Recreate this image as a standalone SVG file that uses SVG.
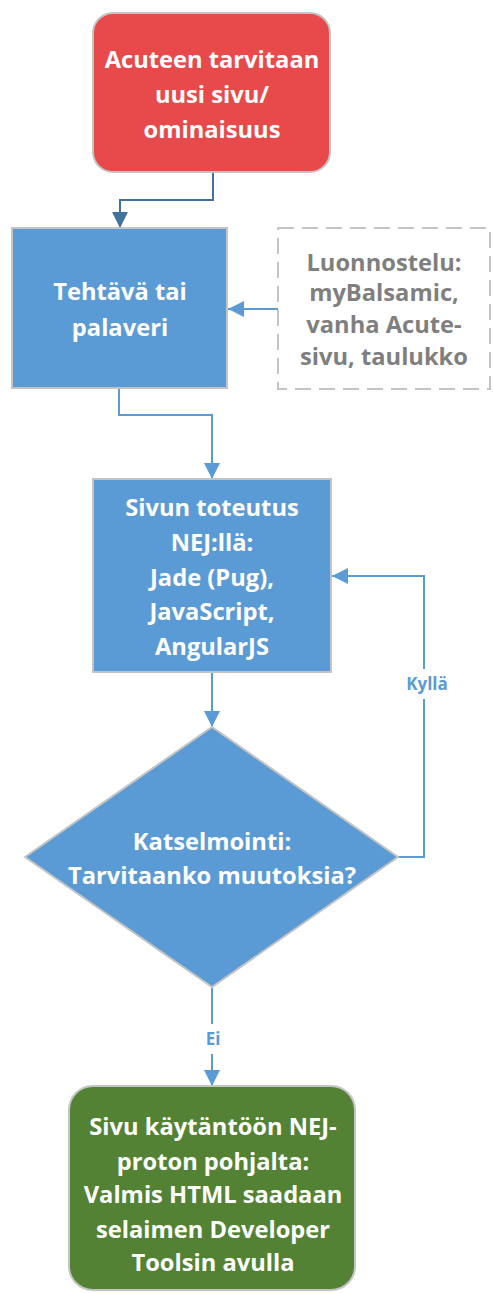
<svg xmlns="http://www.w3.org/2000/svg" width="493" height="1293" viewBox="0 0 493 1293">
<style>
.t{font-family:"Open Sans",Lato,"Liberation Sans",sans-serif;font-weight:bold;font-size:23.7px;text-anchor:middle;fill:#fff}
.g{fill:#7f7f7f}
.lbl{font-family:"Open Sans",Lato,"Liberation Sans",sans-serif;font-weight:bold;font-size:17px;text-anchor:middle;fill:#5b9bd5}
.node{stroke:#c4c4c4;stroke-width:2}
.c{fill:none;stroke:#5b9bd5;stroke-width:2}
.cd{fill:none;stroke:#41719c;stroke-width:2}
</style>
<defs>
<marker id="a2" viewBox="0 0 16 16" refX="16" refY="8" markerWidth="16" markerHeight="16" markerUnits="userSpaceOnUse" orient="auto"><path d="M0,0 L16,8 L0,16 z" fill="#5b9bd5"/></marker>
<marker id="ad2" viewBox="0 0 16 16" refX="16" refY="8" markerWidth="16" markerHeight="16" markerUnits="userSpaceOnUse" orient="auto"><path d="M0,0 L16,8 L0,16 z" fill="#41719c"/></marker>
</defs>
<g id="connectors">
<path class="cd" d="M213,172 V200 H120 V228" marker-end="url(#ad2)"/>
<path class="c" d="M278,309 H228" marker-end="url(#a2)"/>
<path class="c" d="M119,389 V415 H212 V479" marker-end="url(#a2)"/>
<path class="c" d="M212,672 V727" marker-end="url(#a2)"/>
<path class="c" d="M398,857 H424 V576 H332" marker-end="url(#a2)"/>
<path class="c" d="M212,987 V1086" marker-end="url(#a2)"/>
<rect x="398" y="669" width="58" height="30" fill="#fff"/>
<text class="lbl" x="427" y="690">Kyllä</text>
<rect x="198" y="1024" width="28" height="30" fill="#fff"/>
<text class="lbl" x="213" y="1045">Ei</text>
</g>
<g id="n1">
<rect class="node" x="93" y="13" width="237" height="159" rx="20" fill="#e84a4b"/>
<text class="t" x="212" y="68">Acuteen tarvitaan</text>
<text class="t" x="212" y="103">uusi sivu/</text>
<text class="t" x="212" y="138">ominaisuus</text>
</g>
<g id="n2">
<rect class="node" x="12" y="228" width="215" height="160" fill="#5b9bd5"/>
<text class="t" x="120" y="300">Tehtävä tai</text>
<text class="t" x="120" y="336">palaveri</text>
</g>
<g id="n3">
<rect x="278" y="228" width="212" height="161" fill="#fff" stroke="#c4c4c4" stroke-width="2" stroke-dasharray="16,8"/>
<text class="t g" x="384" y="271">Luonnostelu:</text>
<text class="t g" x="384" y="301">myBalsamic,</text>
<text class="t g" x="384" y="333">vanha Acute-</text>
<text class="t g" x="384" y="365">sivu, taulukko</text>
</g>
<g id="n4">
<rect class="node" x="93" y="479" width="238" height="193" fill="#5b9bd5"/>
<text class="t" x="212" y="516">Sivun toteutus</text>
<text class="t" x="212" y="551">NEJ:llä:</text>
<text class="t" x="212" y="586">Jade (Pug),</text>
<text class="t" x="212" y="620">JavaScript,</text>
<text class="t" x="212" y="655">AngularJS</text>
</g>
<g id="n5">
<path class="node" d="M212,727 L398,857 L212,987 L25,857 Z" fill="#5b9bd5"/>
<text class="t" x="212" y="850">Katselmointi:</text>
<text class="t" x="212" y="884">Tarvitaanko muutoksia?</text>
</g>
<g id="n6">
<rect class="node" x="69" y="1086" width="286" height="204" rx="24" fill="#548235"/>
<text class="t" x="213" y="1135">Sivu käytäntöön NEJ-</text>
<text class="t" x="213" y="1170">proton pohjalta:</text>
<text class="t" x="213" y="1203">Valmis HTML saadaan</text>
<text class="t" x="213" y="1238">selaimen Developer</text>
<text class="t" x="213" y="1271">Toolsin avulla</text>
</g>
</svg>
